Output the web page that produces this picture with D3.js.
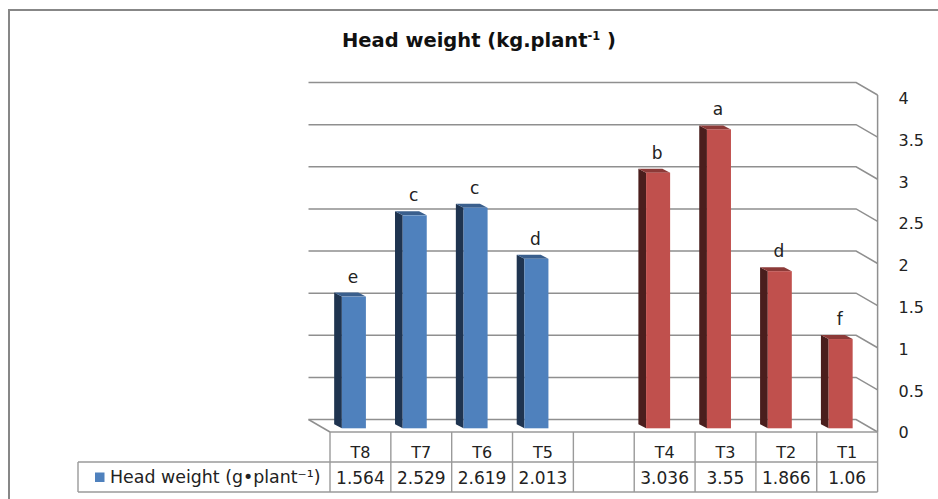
<!DOCTYPE html>
<html>
<head>
<meta charset="utf-8">
<script src="https://cdn.jsdelivr.net/npm/d3@7"></script>
<style>
  html, body { margin: 0; padding: 0; background: #ffffff; }
  svg { display: block; font-family: "DejaVu Sans", "Liberation Sans", sans-serif; }
</style>
</head>
<body>
<svg id="chart" width="938" height="499"></svg>
<script>
// Treatments in display order; the empty slot separates the two groups
const categories = ["T8", "T7", "T6", "T5", "", "T4", "T3", "T2", "T1"];
const values     = [1.564, 2.529, 2.619, 2.013, null, 3.036, 3.55, 1.866, 1.06];
const letters    = ["e", "c", "c", "d", "", "b", "a", "d", "f"];
const groups     = ["g1", "g1", "g1", "g1", "", "g2", "g2", "g2", "g2"];
const yTicks     = [0, 0.5, 1, 1.5, 2, 2.5, 3, 3.5, 4];
const seriesName = "Head weight (g\u2022plant\u207B\u00B9)";
const titleMain  = "Head weight (kg.plant";
const titleSup   = "-1";
const titleEnd   = " )";

const palette = {
  g1: { front: "#4F81BD", side: "#1F3450", top: "#3A5F8D" },
  g2: { front: "#C0504D", side: "#4A1E1D", top: "#8C3A38" }
};

const svg = d3.select("#chart");
const W = 938, H = 499;

// plot geometry
const left = 330, right = 877.6;
const depthX = 21.5, depthY = 12.5;       // floor depth (front edge -> back wall)
const barDX = 7.7, barDY = 4;             // bar depth
const rowTop = 432, rowMid = 462, rowBot = 492, legendLeft = 78;

const x = d3.scaleBand().domain(categories).range([left, right]).padding(0);
const yFront = d3.scaleLinear().domain([0, 4]).range([432, 95]);
const yBack  = d3.scaleLinear().domain([0, 4]).range([432 - depthY, 95 - depthY]);
const yBar   = d3.scaleLinear().domain([0, 4]).range([428.3, 428.3 - 4 * 84.2]);
const yLabel = d3.scaleLinear().domain([0, 4]).range([432.7, 98.3]);

const gridColor = "#8f8f8f";
const tableColor = "#9a9a9a";

// outer chart frame
svg.append("path")
  .attr("d", `M9,${H} V10 H${W}`)
  .attr("fill", "none").attr("stroke", "#878787").attr("stroke-width", 2);

// title
const title = svg.append("text")
  .attr("x", 479).attr("y", 47)
  .attr("text-anchor", "middle")
  .attr("font-weight", "bold").attr("font-size", 19.5)
  .attr("fill", "#111");
title.append("tspan").text(titleMain);
title.append("tspan").attr("font-size", 11.5).attr("dy", -7.5).text(titleSup);
title.append("tspan").attr("dy", 7.5).text(titleEnd);

// back wall gridlines, bending onto the side wall
const bx0 = left - depthX, bx1 = right - depthX;
svg.append("g").selectAll("path").data(yTicks).join("path")
  .attr("d", v => `M${bx0},${yBack(v)} H${bx1} L${right},${yFront(v)}`)
  .attr("fill", "none").attr("stroke", gridColor).attr("stroke-width", 1.5);

// floor left edge and side wall front edge
svg.append("path")
  .attr("d", `M${bx0},${yBack(0)} L${left},${yFront(0)}`)
  .attr("fill", "none").attr("stroke", gridColor).attr("stroke-width", 1.5);
svg.append("path")
  .attr("d", `M${right},${yFront(4)} V${yFront(0)}`)
  .attr("fill", "none").attr("stroke", gridColor).attr("stroke-width", 1.5);

// value axis labels
const axis = d3.axisRight(yLabel).tickValues(yTicks).tickSize(0).tickPadding(21)
  .tickFormat(d3.format("~g"));
const ag = svg.append("g").attr("transform", `translate(${right},0)`).call(axis);
ag.select(".domain").remove();
ag.selectAll("text").attr("font-size", 16).attr("fill", "#222")
  .attr("font-family", "DejaVu Sans, sans-serif");

// 3D bars
const bw = x.bandwidth();
const barData = categories.map((c, i) => ({ c, v: values[i], g: groups[i], l: letters[i] }))
  .filter(d => d.v != null);

const bars = svg.append("g").selectAll("g").data(barData).join("g");
const fx = d => x(d.c) + 0.195 * bw;
const fw = 0.395 * bw;

bars.append("path")   // side face
  .attr("d", d => {
    const x0 = fx(d), yt = yBar(d.v), yb = yBar(0);
    return `M${x0 - barDX},${yt - barDY} L${x0},${yt} L${x0},${yb} L${x0 - barDX},${yb - barDY} Z`;
  })
  .attr("fill", d => palette[d.g].side);

bars.append("path")   // top face
  .attr("d", d => {
    const x0 = fx(d), yt = yBar(d.v);
    return `M${x0 - barDX},${yt - barDY} L${x0 + fw - barDX},${yt - barDY} L${x0 + fw},${yt} L${x0},${yt} Z`;
  })
  .attr("fill", d => palette[d.g].top);

bars.append("rect")   // front face
  .attr("x", fx).attr("y", d => yBar(d.v))
  .attr("width", fw).attr("height", d => yBar(0) - yBar(d.v))
  .attr("fill", d => palette[d.g].front);

// significance letters
bars.append("text")
  .attr("x", d => fx(d) + fw / 2 - 1)
  .attr("y", d => yBar(d.v) - 14)
  .attr("text-anchor", "middle")
  .attr("font-size", 17).attr("fill", "#222")
  .text(d => d.l);

// data table
const tg = svg.append("g").attr("fill", "none").attr("stroke", tableColor).attr("stroke-width", 1.4);
tg.append("path").attr("d", `M${left},${rowTop} H${right}`);
tg.append("path").attr("d", `M${legendLeft},${rowMid} H${right}`);
tg.append("path").attr("d", `M${legendLeft},${rowBot} H${right}`);
tg.append("path").attr("d", `M${legendLeft},${rowMid} V${rowBot}`);
tg.selectAll(".col").data(categories.concat(["__end"])).join("path")
  .attr("d", (c, i) => {
    const xx = i < categories.length ? x(c) : right;
    return `M${xx},${rowTop} V${rowBot}`;
  });

svg.append("g").selectAll("text").data(categories).join("text")
  .attr("x", c => x(c) + bw / 2).attr("y", 457.5)
  .attr("text-anchor", "middle").attr("font-size", 16).attr("fill", "#222")
  .text(c => c);

svg.append("g").selectAll("text").data(values).join("text")
  .attr("x", (v, i) => x(categories[i]) + bw / 2).attr("y", 483.5)
  .attr("text-anchor", "middle").attr("font-size", 17).attr("fill", "#222")
  .text(v => v == null ? "" : String(v));

// legend key inside the table
svg.append("rect").attr("x", 95).attr("y", 472.5).attr("width", 9.5).attr("height", 9.5)
  .attr("fill", palette.g1.front);
svg.append("text").attr("x", 110).attr("y", 482.5)
  .attr("font-size", 17.4).attr("fill", "#222").text(seriesName);
</script>
</body>
</html>
